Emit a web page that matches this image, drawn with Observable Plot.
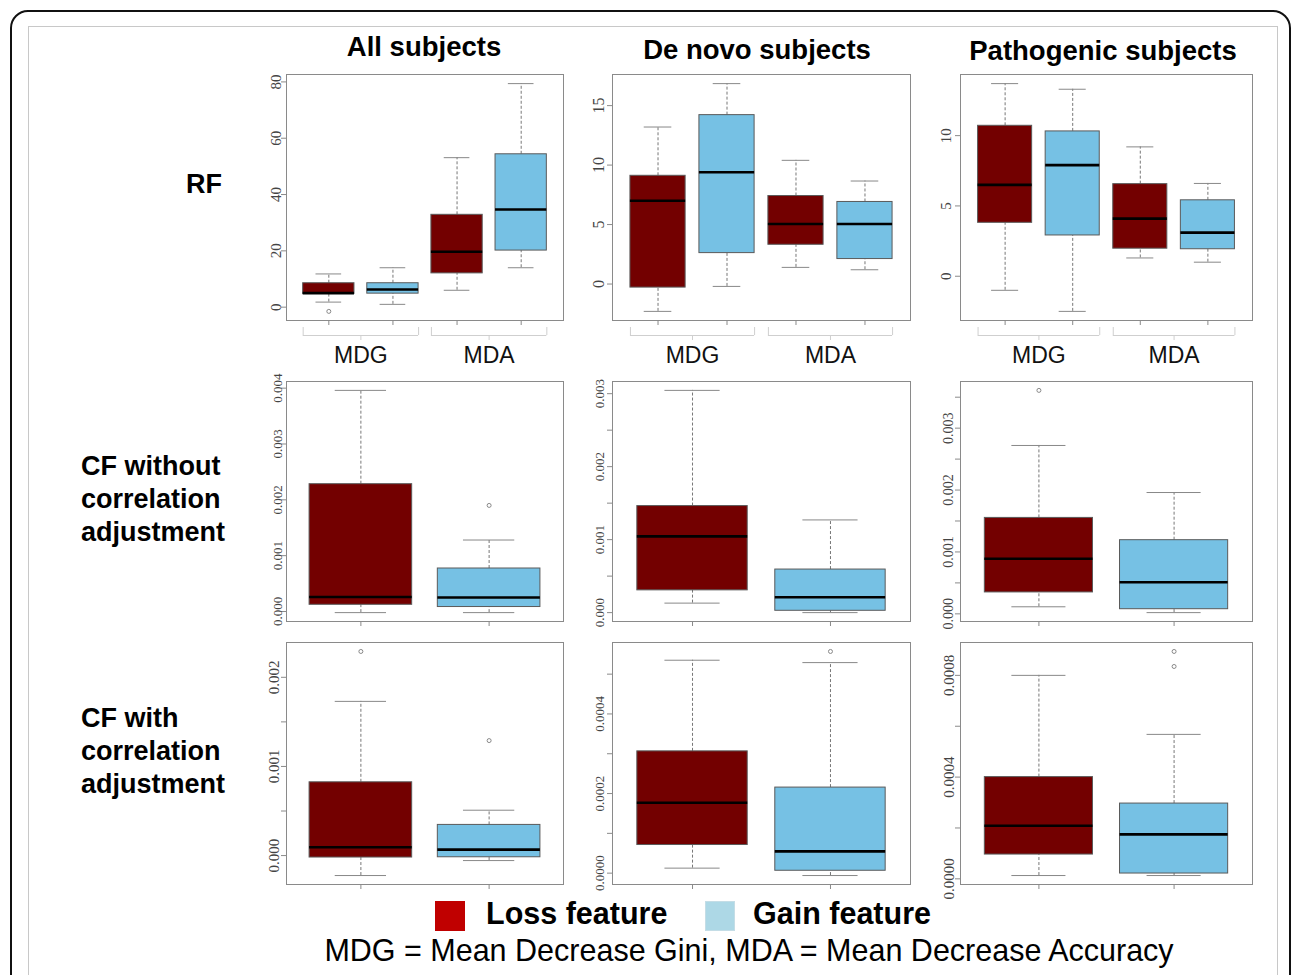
<!DOCTYPE html>
<html><head><meta charset="utf-8">
<script src="https://cdn.jsdelivr.net/npm/d3@7"></script>
<script src="https://cdn.jsdelivr.net/npm/@observablehq/plot@0.6"></script>
<style>
html,body{margin:0;padding:0;width:1293px;height:975px;overflow:hidden;background:#fff;}
#root{position:relative;width:1293px;height:975px;overflow:hidden;font-family:"Liberation Sans",Arial,sans-serif;background:#fff;}
.abs{position:absolute;}
.outer{left:10px;top:10px;width:1281px;height:1100px;border:2px solid #111;border-radius:18px;box-sizing:border-box;}
.inner{left:28px;top:26px;width:1250px;height:1100px;border:1px solid #c8c8c8;box-sizing:border-box;}
.title{font-weight:bold;font-size:27.5px;color:#000;white-space:nowrap;transform:translate(-50%,-50%);line-height:1;}
.rowlab{font-weight:bold;font-size:27px;line-height:33px;color:#000;white-space:nowrap;}
.legtext{font-weight:bold;font-size:30.5px;color:#000;white-space:nowrap;line-height:1;transform:translateY(-50%);}
.caption{font-size:30.5px;color:#000;white-space:nowrap;line-height:1;transform:translate(-50%,-50%);}
.sw{width:30px;height:30px;box-sizing:border-box;}
</style>
</head><body>
<div id="root">
  <div class="abs outer"></div>
  <div class="abs inner"></div>
</div>
<script>
// ---------- data ----------
const subjects = ["All subjects", "De novo subjects", "Pathogenic subjects"];
const methods = ["RF", "CF without\ncorrelation\nadjustment", "CF with\ncorrelation\nadjustment"];
const features = ["Loss feature", "Gain feature"];
const measures = ["MDG", "MDA"];
const caption = "MDG = Mean Decrease Gini, MDA = Mean Decrease Accuracy";

// five-number summaries [lower whisker, Q1, median, Q3, upper whisker]
// RF panels: boxes in order MDG-Loss, MDG-Gain, MDA-Loss, MDA-Gain
const rfAll = [[1.8, 4.7, 5.0, 8.5, 11.8], [1.0, 4.8, 6.3, 8.5, 14.0], [6.0, 12.0, 19.7, 32.8, 53.1], [14.0, 20.1, 34.7, 54.3, 79.4]];
const rfAllOut = [[-1.5], [], [], []];
const rfDeNovo = [[-2.3, -0.3, 7.0, 9.1, 13.2], [-0.2, 2.6, 9.4, 14.2, 16.85], [1.4, 3.3, 5.05, 7.4, 10.4], [1.2, 2.1, 5.05, 6.9, 8.66]];
const rfDeNovoOut = [[], [], [], []];
const rfPatho = [[-1.0, 3.8, 6.5, 10.7, 13.7], [-2.5, 2.9, 7.9, 10.3, 13.3], [1.3, 1.96, 4.1, 6.55, 9.2], [1.0, 1.92, 3.1, 5.4, 6.6]];
const rfPathoOut = [[], [], [], []];
// CF without correlation adjustment: Loss, Gain
const cfAll = [[-0.00002, 0.00012, 0.00026, 0.00228, 0.00396], [-0.00002, 0.00008, 0.00025, 0.00077, 0.00128]];
const cfAllOut = [[], [0.0019]];
const cfDeNovo = [[0.00013, 0.000305, 0.001045, 0.00146, 0.003045], [0.0, 0.000025, 0.00021, 0.00059, 0.00127]];
const cfDeNovoOut = [[], []];
const cfPatho = [[0.000114, 0.000346, 0.00089, 0.00155, 0.00272], [0.00002, 0.000075, 0.00051, 0.00119, 0.00196]];
const cfPathoOut = [[0.00361], []];
// CF with correlation adjustment: Loss, Gain
const cfaAll = [[-0.000224, -0.000022, 0.000093, 0.000822, 0.00173], [-0.000056, -0.000019, 0.000067, 0.000344, 0.000509]];
const cfaAllOut = [[0.00229], [0.00129]];
const cfaDeNovo = [[0.0000126, 0.0000707, 0.000177, 0.000306, 0.000535], [-0.000006, 0.000006, 0.0000547, 0.000215, 0.000529]];
const cfaDeNovoOut = [[], [0.000557]];
const cfaPatho = [[0.000013, 0.0000955, 0.000209, 0.0004, 0.0008], [0.000013, 0.0000209, 0.000175, 0.000296, 0.000568]];
const cfaPathoOut = [[], [0.000835, 0.000894]];

// tick values and labelled ticks
const ticksA = [0, 20, 40, 60, 80];
const ticksB = [0, 5, 10, 15];
const ticksC = [0, 5, 10];
const ticksD = [0, 0.001, 0.002, 0.003, 0.004];
const ticksE = [0, 0.0005, 0.001, 0.0015, 0.002, 0.0025, 0.003];
const labelsE = [0, 0.001, 0.002, 0.003];
const ticksF = [0, 0.0005, 0.001, 0.0015, 0.002, 0.0025, 0.003, 0.0035];
const labelsF = [0, 0.001, 0.002, 0.003];
const ticksG = [0, 0.0005, 0.001, 0.0015, 0.002];
const labelsG = [0, 0.001, 0.002];
const ticksH = [0, 0.0001, 0.0002, 0.0003, 0.0004, 0.0005];
const labelsH = [0, 0.0002, 0.0004];
const ticksI = [0, 0.0002, 0.0004, 0.0006, 0.0008];
const labelsI = [0, 0.0004, 0.0008];

// ---------- styles / layout ----------
const boxColors = ["#730000", "#76c1e4"];
const legendColors = ["#c00000", "#add8e6"];
const cols = [{x: 286, w: 277}, {x: 612, w: 298}, {x: 960, w: 292}];
const rowsL = [{y: 74, h: 246}, {y: 381, h: 240}, {y: 642, h: 242}];

const panels = [
  {r: 0, c: 0, stats: rfAll, out: rfAllOut, ticks: ticksA, labels: ticksA, dec: 0, fs: 15, pad: 1},
  {r: 0, c: 1, stats: rfDeNovo, out: rfDeNovoOut, ticks: ticksB, labels: ticksB, dec: 0, fs: 16, pad: 4},
  {r: 0, c: 2, stats: rfPatho, out: rfPathoOut, ticks: ticksC, labels: ticksC, dec: 0, fs: 15, pad: 5},
  {r: 1, c: 0, stats: cfAll, out: cfAllOut, ticks: ticksD, labels: ticksD, dec: 3, fs: 13, pad: 0},
  {r: 1, c: 1, stats: cfDeNovo, out: cfDeNovoOut, ticks: ticksE, labels: labelsE, dec: 3, fs: 13, pad: 4},
  {r: 1, c: 2, stats: cfPatho, out: cfPathoOut, ticks: ticksF, labels: labelsF, dec: 3, fs: 14, pad: 3},
  {r: 2, c: 0, stats: cfaAll, out: cfaAllOut, ticks: ticksG, labels: labelsG, dec: 3, fs: 15, pad: 3},
  {r: 2, c: 1, stats: cfaDeNovo, out: cfaDeNovoOut, ticks: ticksH, labels: labelsH, dec: 4, fs: 13, pad: 4},
  {r: 2, c: 2, stats: cfaPatho, out: cfaPathoOut, ticks: ticksI, labels: labelsI, dec: 4, fs: 15, pad: 2}
];

const root = document.getElementById("root");

function addDiv(cls, text, style) {
  const d = document.createElement("div");
  d.className = "abs " + cls;
  if (text != null) d.textContent = text;
  Object.assign(d.style, style);
  root.appendChild(d);
  return d;
}

panels.forEach(p => {
  const n = p.stats.length;
  const grouped = n === 4;
  const data = p.stats.map((s, i) => ({pos: i + 1, low: s[0], q1: s[1], med: s[2], q3: s[3], high: s[4], feature: features[i % 2]}));
  const outs = p.out.flatMap((o, i) => o.map(v => ({pos: i + 1, v})));
  const all = p.stats.flat().concat(p.out.flat());
  const lo = d3.min(all), hi = d3.max(all), padY = (hi - lo) * 0.04;
  const yMin = lo - padY;
  const mL = 40, mR = 6, mT = 6, mB = grouped ? 70 : 14;
  const col = cols[p.c], row = rowsL[p.r];
  const marks = [
    Plot.frame({stroke: "#8a8a8a"}),
    Plot.axisY({ticks: p.ticks, tickFormat: d => p.labels.includes(d) ? d.toFixed(p.dec) : "",
      tickSize: 5, tickRotate: -90, tickPadding: p.pad, fontSize: p.fs, fontFamily: "Liberation Serif",
      fill: "#444", stroke: "#8a8a8a"}),
    Plot.axisX({ticks: data.map(d => d.pos), tickFormat: () => "", tickSize: 5, stroke: "#8a8a8a"}),
    Plot.ruleX(data, {x: "pos", y1: "q3", y2: "high", stroke: "#777", strokeDasharray: "3,2"}),
    Plot.ruleX(data, {x: "pos", y1: "low", y2: "q1", stroke: "#777", strokeDasharray: "3,2"}),
    Plot.ruleY(data, {y: "high", x1: d => d.pos - 0.2, x2: d => d.pos + 0.2, stroke: "#888"}),
    Plot.ruleY(data, {y: "low", x1: d => d.pos - 0.2, x2: d => d.pos + 0.2, stroke: "#888"}),
    Plot.rect(data, {x1: d => d.pos - 0.4, x2: d => d.pos + 0.4, y1: "q1", y2: "q3", fill: "feature", stroke: "#5a5a5a", strokeWidth: 1}),
    Plot.ruleY(data, {y: "med", x1: d => d.pos - 0.4, x2: d => d.pos + 0.4, stroke: "#000", strokeWidth: 2.6}),
    Plot.dot(outs, {x: "pos", y: "v", r: 2, stroke: "#888", fill: "none", strokeWidth: 1})
  ];
  if (grouped) {
    const groups = measures.map((m, g) => ({label: m, start: 2 * g + 1 - 0.4, end: 2 * g + 2 + 0.4, mid: 2 * g + 1.5}));
    const ends = groups.flatMap(g => [g.start, g.end]);
    marks.push(
      Plot.ruleY(groups, {y: () => yMin, x1: "start", x2: "end", dy: 15, stroke: "#cfcfcf"}),
      Plot.ruleX(ends, {x: d => d, y1: () => yMin, y2: () => yMin, dy: 7, insetBottom: -8, stroke: "#cfcfcf"}),
      Plot.ruleX(groups, {x: "mid", y1: () => yMin, y2: () => yMin, dy: 15, insetBottom: -5, stroke: "#cfcfcf"}),
      Plot.text(groups, {x: "mid", y: () => yMin, text: "label", dy: 35, fontSize: 23, fontFamily: "Liberation Sans", fill: "#111"})
    );
  }
  const svg = Plot.plot({
    width: col.w + mL + mR, height: row.h + mT + mB,
    marginLeft: mL, marginRight: mR, marginTop: mT, marginBottom: mB,
    x: {domain: [0.5 - n * 0.04, n + 0.5 + n * 0.04], label: null},
    y: {domain: [yMin, hi + padY], label: null},
    color: {domain: features, range: boxColors},
    style: {background: "transparent", overflow: "visible"},
    marks
  });
  svg.style.position = "absolute";
  svg.style.left = (col.x - mL) + "px";
  svg.style.top = (row.y - mT) + "px";
  root.appendChild(svg);
});

// column titles
const titlePos = [{x: 424, y: 47}, {x: 757, y: 50}, {x: 1103, y: 51}];
subjects.forEach((s, i) => addDiv("title", s, {left: titlePos[i].x + "px", top: titlePos[i].y + "px"}));

// row labels
const rowLabPos = [{x: 186, y: 168}, {x: 81, y: 450}, {x: 81, y: 702}];
methods.forEach((m, i) => {
  const d = addDiv("rowlab", null, {left: rowLabPos[i].x + "px", top: rowLabPos[i].y + "px"});
  d.innerHTML = m.split("\n").join("<br>");
});

// legend
const legPos = [{sx: 435, tx: 486}, {sx: 705, tx: 753}];
features.forEach((f, i) => {
  addDiv("sw", null, {left: legPos[i].sx + "px", top: "901px", background: legendColors[i], border: i === 1 ? "1px solid #c4dde6" : "none"});
  addDiv("legtext", f, {left: legPos[i].tx + "px", top: "913px"});
});
addDiv("caption", caption, {left: "749px", top: "950px"});
</script>
</body></html>
